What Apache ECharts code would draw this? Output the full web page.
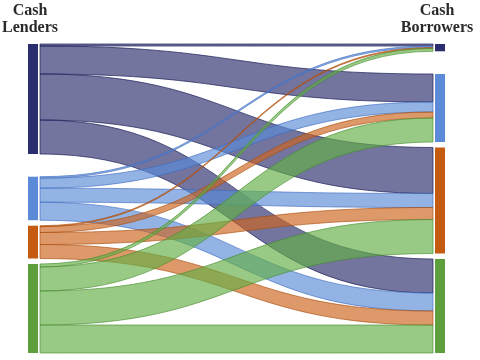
<!DOCTYPE html>
<html>
<head>
<meta charset="utf-8">
<script src="https://cdn.jsdelivr.net/npm/echarts@6/dist/echarts.min.js"></script>
<style>html,body{margin:0;padding:0;background:#fff}#c{width:480px;height:360px}</style>
</head>
<body>
<div id="c"></div>
<script>
// ---- data ----
const lenders = ['Lender 1', 'Lender 2', 'Lender 3', 'Lender 4'];
const borrowers = ['Borrower 1', 'Borrower 2', 'Borrower 3', 'Borrower 4'];
// flows[i][j] : lender i -> borrower j
const flowsL1 = [2, 28, 46, 34];
const flowsL2 = [1.5, 10, 14, 18];
const flowsL3 = [0.8, 6, 12, 14];
const flowsL4 = [3, 24, 34, 28];
const flows = [flowsL1, flowsL2, flowsL3, flowsL4];

// ---- styles / layout ----
const nodeColors = ['#2b2e6e', '#5b8bd8', '#c55a11', '#5c9f3c'];
const linkFill = ['rgba(43,46,110,0.66)', 'rgba(91,139,216,0.66)', 'rgba(205,100,30,0.66)', 'rgba(100,175,70,0.66)'];
const linkEdge = ['rgba(30,33,90,0.9)', 'rgba(60,105,190,0.8)', 'rgba(170,75,10,0.8)', 'rgba(70,140,45,0.8)'];
const spacer = 11.7; // extra room between first and second node in each column (layout only)

function buildNodes(visible) {
  const nodes = [];
  const hidden = { color: 'rgba(0,0,0,0)', borderWidth: 0 };
  const col = (names, prefix) => {
    names.forEach((n, i) => {
      nodes.push({ name: n, itemStyle: visible ? { color: nodeColors[i], borderWidth: 0 } : hidden });
      if (i === 0) nodes.push({ name: prefix + '_spacer', itemStyle: hidden });
    });
  };
  col(lenders, 'L');
  col(borrowers, 'B');
  return nodes;
}
function buildLinks(visible) {
  const links = [];
  lenders.forEach((l, i) => {
    borrowers.forEach((b, j) => {
      links.push({
        source: l, target: b, value: flows[i][j],
        lineStyle: visible
          ? { color: linkFill[i], borderColor: linkEdge[i], borderWidth: 0.8, opacity: 1 }
          : { color: 'rgba(0,0,0,0)', opacity: 0 }
      });
    });
  });
  links.push({ source: 'L_spacer', target: 'B_spacer', value: spacer,
    lineStyle: { color: 'rgba(0,0,0,0)', opacity: 0 } });
  return links;
}
function sankey(nodeWidth, showNodes, showLinks) {
  return {
    type: 'sankey',
    left: 28, right: 35, top: 44, bottom: 7,
    nodeWidth: nodeWidth,
    nodeGap: 5.5,
    layoutIterations: 0,
    draggable: false,
    silent: true,
    label: { show: false },
    emphasis: { disabled: true },
    lineStyle: { curveness: 0.5 },
    data: buildNodes(showNodes),
    links: buildLinks(showLinks)
  };
}

const chart = echarts.init(document.getElementById('c'), null, { renderer: 'canvas' });
const titleFont = 'bold 16px "Liberation Serif", "DejaVu Serif", serif';
chart.setOption({
  backgroundColor: '#fff',
  animation: false,
  series: [sankey(12, false, true), sankey(10, true, false)],
  graphic: [
    { type: 'text', x: 30, y: 2, style: { text: 'Cash\nLenders', align: 'center', verticalAlign: 'top', font: titleFont, lineHeight: 17, fill: '#2a2a2a' } },
    { type: 'text', x: 437, y: 2, style: { text: 'Cash\nBorrowers', align: 'center', verticalAlign: 'top', font: titleFont, lineHeight: 17, fill: '#2a2a2a' } }
  ]
});
</script>
</body>
</html>
